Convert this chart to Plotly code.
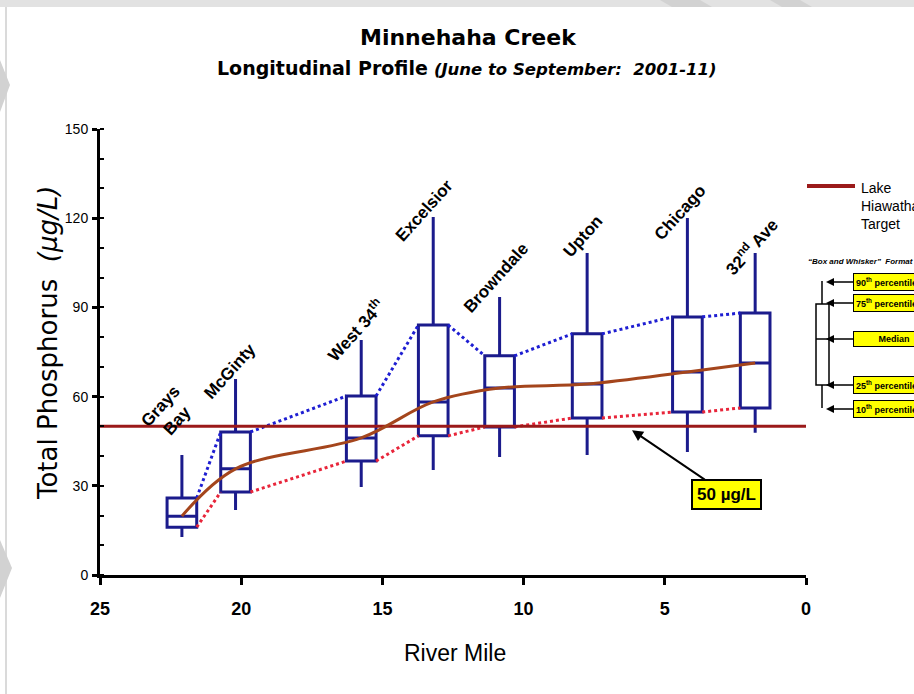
import plotly.graph_objects as go

# ---------------- data ----------------
stations = ["Grays<br>Bay", "McGinty", "West 34<sup>th</sup>", "Excelsior",
            "Browndale", "Upton", "Chicago", "32<sup>nd</sup> Ave"]
river_mile = [22.1, 20.2, 15.75, 13.2, 10.85, 7.75, 4.2, 1.8]
p10 = [12.8, 21.9, 29.6, 35.3, 39.7, 40.4, 41.4, 47.8]
p25 = [16.1, 27.9, 38.3, 46.8, 49.8, 52.8, 54.8, 56.2]
median = [19.8, 35.7, 46.1, 58.2, 62.9, 64.2, 68.3, 71.3]
p75 = [25.9, 48.1, 60.2, 84.1, 73.7, 81.1, 86.8, 88.1]
p90 = [40.4, 65.9, 79.0, 120.4, 93.5, 108.3, 120.1, 108.3]
target = 50
x_ticks = [25, 20, 15, 10, 5, 0]
y_ticks = [0, 30, 60, 90, 120, 150]

# label offsets (pixels) relative to top of each whisker
lab_dx = [-13, -6, -6, -9, -3, -4, -7, -4]
lab_dy = [41, 8, 10, 7, 19, 16, 5, 7]

BOX_W = 1.05
NAVY = "#1B1B8C"
BROWN = "#A4451C"
DARKRED = "#9B1A1A"
BLUE_DOT = "#1E1ED2"
RED_DOT = "#E8253A"

# plot-area geometry in pixels (for paper-coordinate decorations)
L, R, T, B = 100, 806, 129, 575
W, H = 914, 694
def PX(x):
    return (x - L) / (R - L)
def PY(y):
    return (B - y) / (B - T)

fig = go.Figure()

# connecting dotted segments between box corners
def segs(vals):
    xs, ys = [], []
    for i in range(len(vals) - 1):
        xs += [river_mile[i] - BOX_W / 2, river_mile[i + 1] + BOX_W / 2, None]
        ys += [vals[i], vals[i + 1], None]
    return xs, ys

bx, by = segs(p75)
rx, ry = segs(p25)
fig.add_trace(go.Scatter(x=bx, y=by, mode="lines", line=dict(color=BLUE_DOT, width=3, dash="dot"),
                         hoverinfo="skip", showlegend=False))
fig.add_trace(go.Scatter(x=rx, y=ry, mode="lines", line=dict(color=RED_DOT, width=3, dash="dot"),
                         hoverinfo="skip", showlegend=False))

# boxes
fig.add_trace(go.Box(x=river_mile, q1=p25, median=median, q3=p75,
                     lowerfence=p10, upperfence=p90, width=BOX_W,
                     whiskerwidth=0, boxpoints=False,
                     line=dict(color=NAVY, width=3), fillcolor="rgba(0,0,0,0)",
                     hoverinfo="skip", showlegend=False))

# target line
fig.add_trace(go.Scatter(x=[x_ticks[0], x_ticks[-1]], y=[target, target], mode="lines",
                         line=dict(color=DARKRED, width=3), hoverinfo="skip", showlegend=False))

# median smooth line
fig.add_trace(go.Scatter(x=river_mile, y=median, mode="lines",
                         line=dict(color=BROWN, width=3, shape="spline", smoothing=1.0),
                         hoverinfo="skip", showlegend=False))

annotations = []
# station labels
for s, m, top, dx, dy in zip(stations, river_mile, p90, lab_dx, lab_dy):
    annotations.append(dict(x=m, y=top, xref="x", yref="y", text=s, showarrow=False,
                            textangle=-48, xshift=dx, yshift=dy,
                            font=dict(family="Liberation Sans, Arial", size=17, color="black", weight="bold")))

# 50 ug/L callout
annotations.append(dict(x=6.16, y=target - 1.3, xref="x", yref="y", text="<b>50 µg/L</b>",
                        showarrow=True, arrowhead=2, arrowsize=1.1, arrowwidth=2, arrowcolor="black",
                        ax=94, ay=64, bgcolor="#FFFF00", bordercolor="black", borderwidth=2,
                        borderpad=4, font=dict(family="Liberation Sans, Arial", size=17, color="black")))

# titles
annotations.append(dict(x=PX(468), y=PY(38), xref="paper", yref="paper", xanchor="center", yanchor="middle",
                        text="<b>Minnehaha Creek</b>", showarrow=False,
                        font=dict(family="DejaVu Sans", size=22, color="black")))
annotations.append(dict(x=PX(467), y=PY(68), xref="paper", yref="paper", xanchor="center", yanchor="middle",
                        text="<b>Longitudinal Profile</b> <b><i><span style='font-size:16.5px'>(June to September:  2001-11)</span></i></b>",
                        showarrow=False, font=dict(family="DejaVu Sans", size=19, color="black")))
annotations.append(dict(x=PX(48), y=PY(343), xref="paper", yref="paper", xanchor="center", yanchor="middle",
                        text="Total Phosphorus  <i>(µg/L)</i>", textangle=-90, showarrow=False,
                        font=dict(family="DejaVu Sans", size=26, color="black")))
annotations.append(dict(x=PX(455), y=PY(653), xref="paper", yref="paper", xanchor="center", yanchor="middle",
                        text="River Mile", showarrow=False,
                        font=dict(family="Liberation Sans Narrow, Arial Narrow, Liberation Sans", size=23, color="black")))

# legend: lake target
annotations.append(dict(x=PX(859), y=PY(206), xref="paper", yref="paper", xanchor="left", yanchor="middle",
                        text="Lake<br>Hiawatha<br>Target", align="left", showarrow=False,
                        font=dict(family="Liberation Sans Narrow, Arial Narrow, Liberation Sans", size=14, color="black")))
annotations.append(dict(x=PX(806), y=PY(261), xref="paper", yref="paper", xanchor="left", yanchor="middle",
                        text="<b><i>\u201cBox and Whisker\u201d  Format</i></b>", showarrow=False,
                        font=dict(family="Liberation Sans, Arial", size=8, color="black")))

leg_items = [("90<sup>th</sup> percentile", 282), ("75<sup>th</sup> percentile", 303),
             ("\u00a0\u00a0\u00a0\u00a0\u00a0\u00a0\u00a0\u00a0\u00a0Median\u00a0\u00a0\u00a0\u00a0\u00a0\u00a0\u00a0\u00a0\u00a0\u00a0", 339),
             ("25<sup>th</sup> percentile", 385), ("10<sup>th</sup> percentile", 409)]
for txt, yy in leg_items:
    annotations.append(dict(x=PX(826), y=PY(yy), xref="paper", yref="paper", text="<b>" + txt + "</b>",
                            xanchor="left", yanchor="middle", showarrow=True, ax=27, ay=0,
                            arrowhead=2, arrowsize=1, arrowwidth=1.6, arrowcolor="black",
                            bgcolor="#FFFF00", bordercolor="black", borderwidth=1, borderpad=2,
                            font=dict(family="Liberation Sans, Arial", size=9, color="black")))

shapes = [
    # lake target legend line
    dict(type="line", xref="paper", yref="paper", x0=PX(807), x1=PX(855), y0=PY(186), y1=PY(186),
         line=dict(color=DARKRED, width=4)),
    # box diagram
    dict(type="line", xref="paper", yref="paper", x0=PX(822), x1=PX(822), y0=PY(281), y1=PY(408),
         line=dict(color="black", width=1.5)),
    dict(type="rect", xref="paper", yref="paper", x0=PX(816), x1=PX(829), y0=PY(304), y1=PY(385),
         line=dict(color="black", width=1.5), fillcolor="white"),
    dict(type="line", xref="paper", yref="paper", x0=PX(816), x1=PX(829), y0=PY(339), y1=PY(339),
         line=dict(color="black", width=1.5)),
    # page decorations (screenshot frame)
    dict(type="rect", xref="paper", yref="paper", x0=PX(0), x1=PX(W), y0=PY(0), y1=PY(7),
         line=dict(width=0), fillcolor="#E2E2E2", layer="above"),
    dict(type="line", xref="paper", yref="paper", x0=PX(6), x1=PX(6), y0=PY(7), y1=PY(H),
         line=dict(color="#DADADA", width=2), layer="below"),
]
# light grey diagonal stripes (background artefacts)
def poly(pts):
    return "M " + " L ".join(f"{PX(x)},{PY(y)}" for x, y in pts) + " Z"
for pts in [[(660, 0), (700, 0), (712, 7), (672, 7)], [(770, 0), (800, 0), (812, 7), (782, 7)],
            [(0, 540), (12, 568), (0, 598)], [(0, 60), (10, 85), (0, 112)]]:
    shapes.append(dict(type="path", xref="paper", yref="paper", path=poly(pts),
                       fillcolor="#D2D2D2", line=dict(width=0), layer="above"))

tickfont_y = dict(family="Liberation Sans Narrow, Arial Narrow, Liberation Sans", size=14, color="black")
tickfont_x = dict(family="Liberation Sans Narrow, Arial Narrow, Liberation Sans", size=18, color="black", weight="bold")

fig.update_layout(
    width=W, height=H,
    margin=dict(l=L, r=W - R, t=T, b=H - B),
    paper_bgcolor="white", plot_bgcolor="white",
    showlegend=False,
    xaxis=dict(range=[25, 0], tickvals=x_ticks, ticktext=[str(v) for v in x_ticks],
               showgrid=False, zeroline=False, showline=True, linecolor="black", linewidth=3,
               ticks="outside", ticklen=7, tickwidth=3, tickcolor="black", tickfont=tickfont_x,
               ticklabelstandoff=8),
    yaxis=dict(range=[0, 150], tickvals=y_ticks, ticktext=[str(v) for v in y_ticks],
               showgrid=False, zeroline=False, showline=True, linecolor="black", linewidth=3,
               ticks="outside", ticklen=5, tickwidth=3, tickcolor="black", tickfont=tickfont_y,
               minor=dict(ticks="inside", dtick=10, tick0=0, ticklen=4, tickwidth=2, tickcolor="black"),
               ticklabelstandoff=1),
    xaxis2=dict(range=[25, 0], overlaying="x", anchor="y2", tickvals=x_ticks, showticklabels=False,
                showgrid=False, zeroline=False, showline=False, ticks="inside", ticklen=7, tickwidth=3,
                tickcolor="black"),
    yaxis2=dict(range=[0, 150], overlaying="y", anchor="x2", tickvals=y_ticks, showticklabels=False,
                showgrid=False, zeroline=False, showline=False, ticks="inside", ticklen=5, tickwidth=3,
                tickcolor="black"),
    annotations=annotations,
    shapes=shapes,
)

fig.write_html("out.html", config={"displayModeBar": False},
               post_script="document.body.style.margin='0px';document.body.style.overflow='hidden';")
